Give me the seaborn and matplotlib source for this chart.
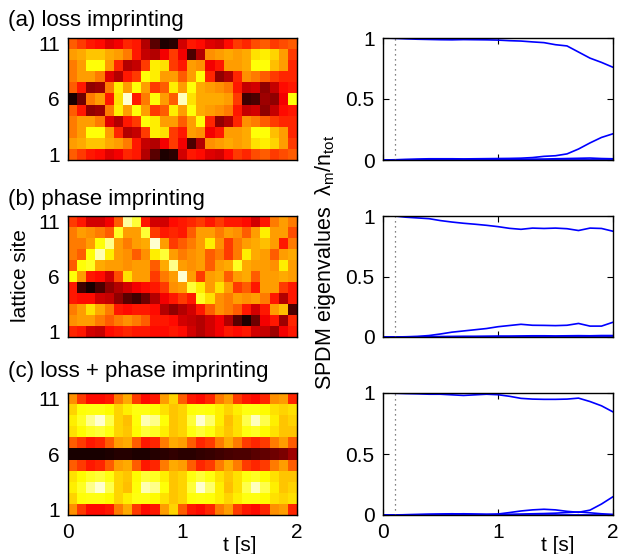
import numpy as np
import pandas as pd
import matplotlib
matplotlib.use("Agg")
import matplotlib.pyplot as plt
import seaborn as sns

sns.set_style("ticks")
plt.rcParams['font.family'] = ['Liberation Sans', 'DejaVu Sans']
plt.rcParams['mathtext.fontset'] = 'custom'
plt.rcParams['mathtext.rm'] = 'Liberation Sans'
plt.rcParams['mathtext.it'] = 'Liberation Sans'
plt.rcParams['text.color'] = 'black'
plt.rcParams['axes.labelcolor'] = 'black'
plt.rcParams['xtick.color'] = 'black'
plt.rcParams['ytick.color'] = 'black'

# lattice sites, listed from top row (11) to bottom row (1)
sites = [11, 10, 9, 8, 7, 6, 5, 4, 3, 2, 1]
site_ticks = [11, 6, 1]
t_ticks = [0, 1, 2]
t_max = 2.0

# (a) loss imprinting, normalised density, 25 time bins per row
loss_map = [
    [0.50, 0.45, 0.40, 0.38, 0.32, 0.35, 0.42, 0.40, 0.25, 0.12, 0.03, 0.05, 0.30, 0.40, 0.38, 0.32, 0.30, 0.38, 0.45, 0.42, 0.48, 0.50, 0.45, 0.48, 0.50],
    [0.60, 0.62, 0.66, 0.66, 0.62, 0.60, 0.55, 0.40, 0.28, 0.25, 0.35, 0.45, 0.35, 0.10, 0.25, 0.58, 0.60, 0.62, 0.60, 0.62, 0.70, 0.72, 0.68, 0.60, 0.45],
    [0.55, 0.60, 0.75, 0.75, 0.60, 0.42, 0.25, 0.28, 0.45, 0.72, 0.70, 0.45, 0.40, 0.60, 0.58, 0.35, 0.40, 0.60, 0.60, 0.62, 0.75, 0.75, 0.65, 0.60, 0.42],
    [0.55, 0.60, 0.60, 0.55, 0.32, 0.25, 0.40, 0.45, 0.75, 0.72, 0.60, 0.60, 0.50, 0.60, 0.75, 0.42, 0.20, 0.25, 0.42, 0.58, 0.55, 0.50, 0.45, 0.42, 0.42],
    [0.50, 0.40, 0.20, 0.22, 0.55, 0.72, 0.60, 0.75, 0.60, 0.45, 0.50, 0.72, 0.60, 0.75, 0.62, 0.60, 0.58, 0.55, 0.40, 0.28, 0.30, 0.20, 0.28, 0.38, 0.40],
    [0.02, 0.15, 0.55, 0.60, 0.40, 0.70, 0.95, 0.40, 0.55, 0.75, 0.60, 0.50, 0.93, 0.70, 0.62, 0.62, 0.62, 0.60, 0.45, 0.08, 0.10, 0.22, 0.20, 0.35, 0.75],
    [0.50, 0.40, 0.20, 0.22, 0.55, 0.72, 0.60, 0.75, 0.60, 0.45, 0.50, 0.72, 0.60, 0.75, 0.62, 0.60, 0.58, 0.55, 0.40, 0.28, 0.30, 0.20, 0.28, 0.38, 0.40],
    [0.55, 0.60, 0.60, 0.55, 0.32, 0.25, 0.40, 0.45, 0.75, 0.72, 0.60, 0.60, 0.50, 0.60, 0.75, 0.42, 0.20, 0.25, 0.42, 0.58, 0.55, 0.50, 0.45, 0.42, 0.42],
    [0.55, 0.60, 0.75, 0.75, 0.60, 0.42, 0.25, 0.28, 0.45, 0.72, 0.70, 0.45, 0.40, 0.60, 0.58, 0.35, 0.40, 0.60, 0.60, 0.62, 0.75, 0.75, 0.65, 0.60, 0.42],
    [0.60, 0.62, 0.66, 0.66, 0.62, 0.60, 0.55, 0.40, 0.28, 0.25, 0.35, 0.45, 0.35, 0.10, 0.25, 0.58, 0.60, 0.62, 0.60, 0.62, 0.70, 0.72, 0.68, 0.60, 0.45],
    [0.50, 0.45, 0.40, 0.38, 0.32, 0.35, 0.42, 0.40, 0.25, 0.12, 0.03, 0.05, 0.30, 0.40, 0.38, 0.32, 0.30, 0.38, 0.45, 0.42, 0.48, 0.50, 0.45, 0.48, 0.50],
]

# (b) phase imprinting
phase_map = [
    [0.45, 0.40, 0.30, 0.30, 0.35, 0.50, 0.90, 0.80, 0.40, 0.30, 0.30, 0.38, 0.40, 0.42, 0.45, 0.40, 0.45, 0.40, 0.40, 0.38, 0.30, 0.40, 0.55, 0.60, 0.55],
    [0.55, 0.60, 0.58, 0.55, 0.50, 0.78, 0.60, 0.60, 0.80, 0.45, 0.40, 0.42, 0.40, 0.50, 0.60, 0.60, 0.55, 0.60, 0.58, 0.50, 0.60, 0.72, 0.60, 0.60, 0.48],
    [0.55, 0.55, 0.60, 0.75, 0.88, 0.60, 0.55, 0.60, 0.62, 0.95, 0.60, 0.45, 0.50, 0.55, 0.60, 0.72, 0.58, 0.45, 0.55, 0.60, 0.62, 0.65, 0.60, 0.40, 0.55],
    [0.55, 0.50, 0.75, 0.92, 0.72, 0.60, 0.58, 0.50, 0.58, 0.72, 0.80, 0.60, 0.55, 0.58, 0.60, 0.50, 0.55, 0.45, 0.55, 0.72, 0.62, 0.60, 0.50, 0.60, 0.62],
    [0.50, 0.75, 0.78, 0.62, 0.60, 0.60, 0.58, 0.60, 0.60, 0.50, 0.62, 0.88, 0.60, 0.58, 0.60, 0.50, 0.60, 0.62, 0.78, 0.62, 0.60, 0.60, 0.58, 0.72, 0.60],
    [0.75, 0.60, 0.40, 0.38, 0.30, 0.48, 0.70, 0.60, 0.60, 0.45, 0.55, 0.60, 0.95, 0.60, 0.45, 0.60, 0.62, 0.50, 0.60, 0.62, 0.50, 0.60, 0.60, 0.62, 0.60],
    [0.40, 0.08, 0.02, 0.10, 0.20, 0.25, 0.30, 0.35, 0.38, 0.40, 0.45, 0.58, 0.60, 0.80, 0.72, 0.60, 0.70, 0.60, 0.45, 0.50, 0.40, 0.60, 0.60, 0.45, 0.40],
    [0.40, 0.38, 0.38, 0.30, 0.28, 0.20, 0.12, 0.08, 0.15, 0.25, 0.35, 0.40, 0.45, 0.40, 0.78, 0.70, 0.58, 0.55, 0.60, 0.58, 0.60, 0.55, 0.40, 0.25, 0.40],
    [0.55, 0.60, 0.70, 0.62, 0.55, 0.40, 0.38, 0.40, 0.40, 0.38, 0.25, 0.20, 0.25, 0.30, 0.40, 0.50, 0.58, 0.55, 0.50, 0.40, 0.30, 0.40, 0.60, 0.65, 0.10],
    [0.58, 0.60, 0.60, 0.55, 0.50, 0.55, 0.58, 0.55, 0.50, 0.40, 0.40, 0.38, 0.30, 0.28, 0.25, 0.30, 0.35, 0.25, 0.12, 0.03, 0.15, 0.35, 0.40, 0.22, 0.42],
    [0.42, 0.40, 0.30, 0.28, 0.38, 0.40, 0.42, 0.40, 0.40, 0.38, 0.38, 0.40, 0.38, 0.30, 0.25, 0.30, 0.35, 0.40, 0.38, 0.40, 0.30, 0.28, 0.22, 0.35, 0.40],
]

# (c) loss + phase imprinting
combined_map = [
    [0.58, 0.45, 0.38, 0.38, 0.40, 0.55, 0.62, 0.45, 0.38, 0.40, 0.60, 0.68, 0.50, 0.40, 0.38, 0.42, 0.55, 0.60, 0.45, 0.40, 0.38, 0.42, 0.58, 0.60, 0.42],
    [0.68, 0.75, 0.76, 0.76, 0.74, 0.68, 0.72, 0.76, 0.76, 0.74, 0.70, 0.66, 0.68, 0.75, 0.76, 0.75, 0.72, 0.68, 0.72, 0.76, 0.76, 0.74, 0.70, 0.68, 0.70],
    [0.72, 0.78, 0.88, 0.95, 0.82, 0.68, 0.65, 0.75, 0.92, 0.88, 0.75, 0.66, 0.68, 0.80, 0.95, 0.85, 0.72, 0.65, 0.70, 0.82, 0.93, 0.82, 0.72, 0.66, 0.68],
    [0.70, 0.74, 0.78, 0.80, 0.76, 0.68, 0.66, 0.74, 0.80, 0.78, 0.72, 0.66, 0.68, 0.76, 0.80, 0.76, 0.70, 0.66, 0.70, 0.76, 0.78, 0.74, 0.70, 0.66, 0.66],
    [0.50, 0.45, 0.40, 0.42, 0.50, 0.60, 0.62, 0.50, 0.40, 0.42, 0.55, 0.62, 0.60, 0.50, 0.42, 0.45, 0.55, 0.62, 0.55, 0.45, 0.42, 0.45, 0.55, 0.60, 0.50],
    [0.02, 0.02, 0.02, 0.02, 0.03, 0.04, 0.04, 0.03, 0.03, 0.04, 0.05, 0.06, 0.05, 0.05, 0.06, 0.07, 0.08, 0.09, 0.10, 0.10, 0.12, 0.13, 0.15, 0.17, 0.22],
    [0.50, 0.45, 0.40, 0.42, 0.50, 0.60, 0.62, 0.50, 0.40, 0.42, 0.55, 0.62, 0.60, 0.50, 0.42, 0.45, 0.55, 0.62, 0.55, 0.45, 0.42, 0.45, 0.55, 0.60, 0.50],
    [0.70, 0.74, 0.78, 0.80, 0.76, 0.68, 0.66, 0.74, 0.80, 0.78, 0.72, 0.66, 0.68, 0.76, 0.80, 0.76, 0.70, 0.66, 0.70, 0.76, 0.78, 0.74, 0.70, 0.66, 0.66],
    [0.72, 0.78, 0.88, 0.95, 0.82, 0.68, 0.65, 0.75, 0.92, 0.88, 0.75, 0.66, 0.68, 0.80, 0.95, 0.85, 0.72, 0.65, 0.70, 0.82, 0.93, 0.82, 0.72, 0.66, 0.68],
    [0.68, 0.75, 0.76, 0.76, 0.74, 0.68, 0.72, 0.76, 0.76, 0.74, 0.70, 0.66, 0.68, 0.75, 0.76, 0.75, 0.72, 0.68, 0.72, 0.76, 0.76, 0.74, 0.70, 0.68, 0.70],
    [0.58, 0.45, 0.38, 0.38, 0.40, 0.55, 0.62, 0.45, 0.38, 0.40, 0.60, 0.68, 0.50, 0.40, 0.38, 0.42, 0.55, 0.60, 0.45, 0.40, 0.38, 0.42, 0.58, 0.60, 0.42],
]

# SPDM eigenvalues lambda_m / n_tot
t_eig = [0.0, 0.1, 0.2, 0.3, 0.4, 0.5, 0.6, 0.7, 0.8, 0.9, 1.0,
         1.1, 1.2, 1.3, 1.4, 1.5, 1.6, 1.7, 1.8, 1.9, 2.0]

a_l1 = [1.0, 0.997, 0.993, 0.99, 0.988, 0.986, 0.985, 0.987, 0.986, 0.985, 0.983,
        0.978, 0.975, 0.968, 0.962, 0.945, 0.935, 0.885, 0.835, 0.80, 0.76]
a_l2 = [0.0, 0.002, 0.005, 0.008, 0.010, 0.010, 0.010, 0.009, 0.010, 0.011, 0.012,
        0.013, 0.015, 0.020, 0.030, 0.035, 0.050, 0.090, 0.140, 0.185, 0.215]
a_l3 = [0.0, 0.001, 0.002, 0.002, 0.003, 0.004, 0.004, 0.004, 0.003, 0.003, 0.004,
        0.005, 0.006, 0.007, 0.008, 0.010, 0.012, 0.014, 0.016, 0.012, 0.010]

b_l1 = [1.0, 1.0, 0.99, 0.984, 0.978, 0.962, 0.95, 0.94, 0.932, 0.923, 0.912,
        0.898, 0.89, 0.90, 0.897, 0.90, 0.895, 0.88, 0.90, 0.897, 0.874]
b_l2 = [0.0, 0.0, 0.002, 0.005, 0.012, 0.025, 0.040, 0.050, 0.060, 0.070, 0.085,
        0.095, 0.105, 0.097, 0.096, 0.094, 0.097, 0.112, 0.090, 0.090, 0.122]
b_l3 = [0.0, 0.0, 0.001, 0.002, 0.003, 0.004, 0.005, 0.006, 0.006, 0.007, 0.008,
        0.008, 0.009, 0.010, 0.010, 0.009, 0.010, 0.011, 0.010, 0.012, 0.012]

c_l1 = [1.0, 0.998, 0.995, 0.993, 0.99, 0.99, 0.985, 0.98, 0.985, 0.99, 0.986,
        0.973, 0.956, 0.95, 0.948, 0.948, 0.95, 0.958, 0.93, 0.895, 0.845]
c_l2 = [0.0, 0.0, 0.002, 0.004, 0.006, 0.008, 0.010, 0.008, 0.005, 0.004, 0.008,
        0.020, 0.033, 0.042, 0.047, 0.042, 0.030, 0.022, 0.040, 0.090, 0.150]
c_l3 = [0.0, 0.001, 0.002, 0.003, 0.005, 0.006, 0.008, 0.010, 0.008, 0.006, 0.005,
        0.006, 0.008, 0.010, 0.012, 0.015, 0.020, 0.025, 0.018, 0.010, 0.005]

t_marker = 0.1

panels = [
    ("(a) loss imprinting", loss_map, [a_l1, a_l2, a_l3]),
    ("(b) phase imprinting", phase_map, [b_l1, b_l2, b_l3]),
    ("(c) loss + phase imprinting", combined_map, [c_l1, c_l2, c_l3]),
]

FS = 15
W, H = 620, 554
fig = plt.figure(figsize=(W / 100, H / 100), dpi=100)

# pixel boxes (top, bottom) of each row
row_px = [(38, 160), (216, 337), (393, 515)]
title_base = [26, 205, 377]


def style_axes(ax):
    for sp in ax.spines.values():
        sp.set_visible(True)
        sp.set_color("black")
        sp.set_linewidth(1.0)
    ax.tick_params(direction="in", top=True, right=True, length=4, width=0.8,
                   labelsize=FS, pad=6, colors="black")


for i, (title, grid, eigs) in enumerate(panels):
    top, bot = row_px[i]
    last = i == len(panels) - 1

    # heatmap
    axl = fig.add_axes([68 / W, 1 - bot / H, (297 - 68) / W, (bot - top) / H])
    df = pd.DataFrame(grid, index=sites)
    sns.heatmap(df, ax=axl, cmap="hot", vmin=0, vmax=1, cbar=False,
                xticklabels=False, yticklabels=False)
    ncol = df.shape[1]
    axl.set_xticks([t / t_max * ncol for t in t_ticks])
    axl.set_yticks([sites.index(s) + 0.5 for s in site_ticks])
    axl.set_yticklabels([str(s) for s in site_ticks], rotation=0)
    if last:
        axl.set_xticklabels([str(t) for t in t_ticks], rotation=0)
    else:
        axl.set_xticklabels([])
    axl.set_xlabel("")
    axl.set_ylabel("")
    style_axes(axl)

    # eigenvalue curves
    axr = fig.add_axes([383 / W, 1 - bot / H, (613 - 383) / W, (bot - top) / H])
    long = pd.concat([pd.DataFrame({"t": t_eig, "val": v, "m": m})
                      for m, v in enumerate(eigs)], ignore_index=True)
    sns.lineplot(data=long, x="t", y="val", units="m", estimator=None,
                 color="blue", linewidth=1.2, ax=axr)
    axr.axhline(0, color="blue", linewidth=2.0)
    axr.axvline(t_marker, color="0.35", linewidth=0.9, linestyle=(0, (1, 3)))
    axr.set_xlim(0, t_max)
    axr.set_ylim(0, 1)
    axr.set_xticks(t_ticks)
    axr.set_yticks([0, 0.5, 1])
    axr.set_yticklabels(["0", "0.5", "1"])
    if last:
        axr.set_xticklabels([str(t) for t in t_ticks])
    else:
        axr.set_xticklabels([])
    axr.set_xlabel("")
    axr.set_ylabel("")
    style_axes(axr)

    fig.text(8 / W, 1 - title_base[i] / H, title, fontsize=16, va="baseline", ha="left")

fig.text(21 / W, 1 - 276 / H, "lattice site", rotation=90, fontsize=FS,
         ha="center", va="center")
fig.text(326 / W, 1 - 262 / H, r"SPDM eigenvalues  $\lambda_m/n_{tot}$", rotation=90,
         fontsize=15.5, ha="center", va="center")
fig.text(240 / W, 1 - 536 / H, "t [s]", fontsize=FS, ha="center", va="top")
fig.text(558 / W, 1 - 536 / H, "t [s]", fontsize=FS, ha="center", va="top")

fig.savefig("out.png", dpi=100)
